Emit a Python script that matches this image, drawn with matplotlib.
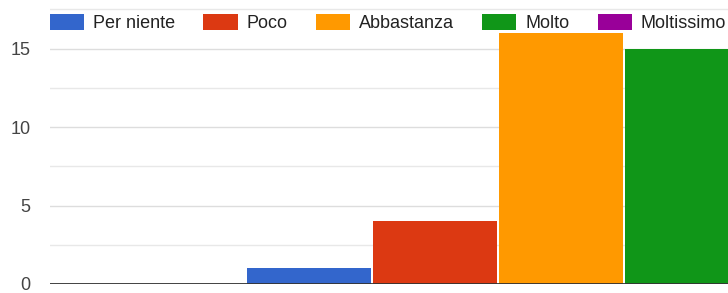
import numpy as np
import matplotlib.pyplot as plt
from matplotlib.ticker import MultipleLocator

# Risposte (una sola domanda, barre raggruppate)
categories = ["Per niente", "Poco", "Abbastanza", "Molto", "Moltissimo"]
counts = [1, 4, 16, 15, 0]
colors = ["#3366CC", "#DC3912", "#FF9900", "#109618", "#990099"]

plt.rcParams['font.family'] = ['Liberation Sans', 'DejaVu Sans']

fig = plt.figure(figsize=(7.28, 2.93), dpi=100)
ax = fig.add_axes([50 / 728, 9 / 293, 1 - 50 / 728, 284 / 293])

x = np.arange(len(categories))
handles = []
for i, (cat, val, col) in enumerate(zip(categories, counts, colors)):
    h = ax.bar(x[i], val, width=0.985, color=col, label=cat, zorder=3)
    handles.append(h)

# visible window is a crop of the original chart
ax.set_xlim(-2.06, 3.33)
ax.set_ylim(0, 18.1)

ax.yaxis.set_major_locator(MultipleLocator(5))
ax.yaxis.set_minor_locator(MultipleLocator(2.5))
ax.grid(axis='y', which='major', color='#dddddd', linewidth=1.0, zorder=0)
ax.grid(axis='y', which='minor', color='#e8e8e8', linewidth=1.0, zorder=0)
ax.axhline(0, color='#333333', linewidth=1.3, zorder=4)

for s in ax.spines.values():
    s.set_visible(False)
ax.set_xticks([])
ax.tick_params(axis='y', which='both', length=0, labelsize=13, labelcolor='#444444', pad=14)

leg = fig.legend(handles=handles, labels=categories, loc='center left',
                 bbox_to_anchor=(50 / 728, 1 - 23 / 293), ncol=5, frameon=False,
                 fontsize=13, handlelength=1.9, handleheight=0.95,
                 handletextpad=0.5, columnspacing=1.55, borderaxespad=0,
                 borderpad=0)
for t in leg.get_texts():
    t.set_color('#222222')

plt.savefig('out.png', dpi=100)
